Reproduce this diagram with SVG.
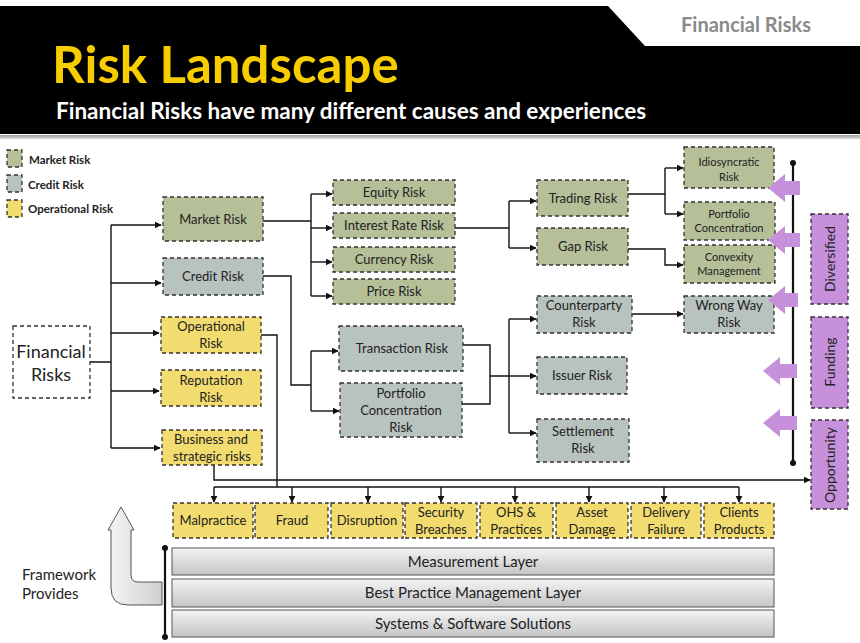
<svg xmlns="http://www.w3.org/2000/svg" width="860" height="643" viewBox="0 0 860 643">
<defs>
<style>
text{font-family:Lato,"Liberation Sans",sans-serif;fill:#222;text-anchor:middle}
.g{fill:#b5bf98;stroke:#333;stroke-width:1.3;stroke-dasharray:4 3}
.c{fill:#b8c3bf;stroke:#333;stroke-width:1.3;stroke-dasharray:4 3}
.y{fill:#f2dc70;stroke:#333;stroke-width:1.3;stroke-dasharray:4 3}
.p{fill:#c691da;stroke:#333;stroke-width:1.3;stroke-dasharray:4 3}
.w{fill:#fff;stroke:#333;stroke-width:1.3;stroke-dasharray:4 3}
.t{font-size:13px}
.l{fill:url(#lg);stroke:#555;stroke-width:1}
.lt{font-size:15px}
#conn path{fill:none;stroke:#111;stroke-width:1.4}
.a{marker-end:url(#ah)}
.pa{fill:#c691da}
</style>
<marker id="ah" viewBox="0 0 10 10" refX="9" refY="5" markerWidth="7" markerHeight="7" orient="auto" markerUnits="userSpaceOnUse"><path d="M0,0L10,5L0,10z" fill="#111"/></marker>
<linearGradient id="lg" x1="0" y1="0" x2="0" y2="1"><stop offset="0" stop-color="#f4f4f4"/><stop offset="1" stop-color="#c4c4c4"/></linearGradient>
<linearGradient id="ag" x1="0" y1="0" x2="1" y2="0"><stop offset="0" stop-color="#f6f6f6"/><stop offset="1" stop-color="#cfcfcf"/></linearGradient>
<linearGradient id="hl" x1="0" y1="0" x2="0" y2="1"><stop offset="0" stop-color="#999"/><stop offset="1" stop-color="#ddd"/></linearGradient>
</defs>
<rect width="860" height="643" fill="#fff"/>
<g id="header">
<rect x="0" y="6" width="860" height="128" fill="#000"/>
<polygon points="608,6 860,6 860,46 645,46" fill="#fff"/>
<rect x="0" y="135" width="860" height="4" fill="url(#hl)"/>
<text x="746" y="32" style="font-size:20px;font-weight:bold;fill:#8a8a8a">Financial Risks</text>
<text x="52" y="83" style="font-size:51px;font-weight:bold;fill:#f7cd00;text-anchor:start">Risk Landscape</text>
<text x="56" y="119" style="font-size:22.5px;font-weight:bold;fill:#fff;text-anchor:start">Financial Risks have many different causes and experiences</text>
</g>
<g id="legend">
<rect class="g" x="7" y="150" width="15" height="17"/><text x="29" y="164" style="font-size:11.5px;font-weight:bold;text-anchor:start">Market Risk</text>
<rect class="c" x="7" y="175" width="15" height="17"/><text x="28" y="189" style="font-size:11.5px;font-weight:bold;text-anchor:start">Credit Risk</text>
<rect class="y" x="7" y="200" width="15" height="17"/><text x="28" y="213" style="font-size:11.5px;font-weight:bold;text-anchor:start">Operational Risk</text>
</g>
<g id="conn">
<path d="M90,362H111M111,225V448"/>
<path class="a" d="M111,225H161"/><path class="a" d="M111,283H161"/><path class="a" d="M111,333H159"/><path class="a" d="M111,391H159"/><path class="a" d="M111,448H160"/>
<path d="M263,221H311M311,194V296"/>
<path class="a" d="M311,194H332"/><path class="a" d="M311,228H332"/><path class="a" d="M311,262H332"/><path class="a" d="M311,296H332"/>
<path d="M263,276H291V385H311M311,351V411"/>
<path class="a" d="M311,351H338"/><path class="a" d="M311,411H339"/>
<path d="M463,345H490V404H462M490,376H509M509,319V433"/>
<path class="a" d="M509,319H536"/><path class="a" d="M509,376H536"/><path class="a" d="M509,433H536"/>
<path d="M455,228H509M509,201V248"/>
<path class="a" d="M509,201H536"/><path class="a" d="M509,248H536"/>
<path d="M628,194H665M665,168V214"/>
<path class="a" d="M665,168H683"/><path class="a" d="M665,214H683"/>
<path class="a" d="M628,249H665V265H683"/>
<path class="a" d="M632,314H683"/>
<path d="M261,335H277V487"/>
<path class="a" d="M214,465V480H810"/>
<path d="M214,487H739"/>
<path class="a" d="M214,487V502"/><path class="a" d="M292,487V502"/><path class="a" d="M368,487V502"/><path class="a" d="M441,487V502"/><path class="a" d="M515,487V502"/><path class="a" d="M589,487V502"/><path class="a" d="M664,487V502"/><path class="a" d="M739,487V502"/>
<path d="M793,163V463M165,548V637" style="stroke-width:2.2"/>
</g>
<circle cx="793" cy="163" r="3" fill="#111"/><circle cx="793" cy="463" r="3" fill="#111"/>
<circle cx="165" cy="548" r="3" fill="#111"/><circle cx="165" cy="637" r="3" fill="#111"/>
<g id="financial"><rect class="w" x="13" y="326" width="77" height="72"/><text x="51" y="358" style="font-size:18px">Financial</text><text x="51" y="381" style="font-size:18px">Risks</text></g>
<g id="market"><rect class="g" x="163" y="197" width="100" height="44"/><text class="t" x="213" y="224">Market Risk</text></g>
<g id="credit"><rect class="c" x="163" y="258" width="100" height="37"/><text class="t" x="213" y="281">Credit Risk</text></g>
<g id="operational"><rect class="y" x="161" y="317" width="100" height="36"/><text class="t" x="211" y="331">Operational</text><text class="t" x="211" y="348">Risk</text></g>
<g id="reputation"><rect class="y" x="161" y="370" width="100" height="36"/><text class="t" x="211" y="385">Reputation</text><text class="t" x="211" y="402">Risk</text></g>
<g id="business"><rect class="y" x="162" y="430" width="100" height="35"/><text class="t" x="211" y="444">Business and</text><text class="t" x="212" y="461">strategic risks</text></g>
<g id="equity"><rect class="g" x="333" y="180" width="122" height="25"/><text class="t" x="394" y="197">Equity Risk</text></g>
<g id="interest"><rect class="g" x="333" y="213" width="122" height="25"/><text class="t" x="394" y="230">Interest Rate Risk</text></g>
<g id="currency"><rect class="g" x="333" y="247" width="122" height="25"/><text class="t" x="394" y="264">Currency Risk</text></g>
<g id="price"><rect class="g" x="333" y="279" width="122" height="25"/><text class="t" x="394" y="296">Price Risk</text></g>
<g id="transaction"><rect class="c" x="339" y="326" width="124" height="45"/><text class="t" x="402" y="353">Transaction Risk</text></g>
<g id="portconc"><rect class="c" x="340" y="383" width="122" height="54"/><text class="t" x="401" y="398">Portfolio</text><text class="t" x="401" y="415">Concentration</text><text class="t" x="401" y="432">Risk</text></g>
<g id="trading"><rect class="g" x="537" y="180" width="91" height="36"/><text class="t" x="583" y="203">Trading Risk</text></g>
<g id="gap"><rect class="g" x="537" y="228" width="91" height="37"/><text class="t" x="583" y="251">Gap Risk</text></g>
<g id="counterparty"><rect class="c" x="537" y="296" width="95" height="37"/><text class="t" x="584" y="310">Counterparty</text><text class="t" x="584" y="327">Risk</text></g>
<g id="issuer"><rect class="c" x="537" y="357" width="90" height="37"/><text class="t" x="582" y="380">Issuer Risk</text></g>
<g id="settlement"><rect class="c" x="537" y="419" width="92" height="43"/><text class="t" x="583" y="436">Settlement</text><text class="t" x="583" y="453">Risk</text></g>
<g id="idio"><rect class="g" x="684" y="147" width="90" height="41"/><text x="729" y="166" style="font-size:11px">Idiosyncratic</text><text x="729" y="181" style="font-size:11px">Risk</text></g>
<g id="portconc2"><rect class="g" x="684" y="202" width="91" height="38"/><text x="729" y="218" style="font-size:11px">Portfolio</text><text x="729" y="232" style="font-size:11px">Concentration</text></g>
<g id="convexity"><rect class="g" x="684" y="245" width="91" height="38"/><text x="729" y="261" style="font-size:11px">Convexity</text><text x="729" y="275" style="font-size:11px">Management</text></g>
<g id="wrongway"><rect class="c" x="684" y="296" width="90" height="37"/><text class="t" x="729" y="310">Wrong Way</text><text class="t" x="729" y="327">Risk</text></g>
<g id="purplearrows">
<path class="pa" d="M768,188L785,174V181H800V195H785V202Z"/>
<path class="pa" d="M768,240L785,226V233H800V247H785V254Z"/>
<path class="pa" d="M768,300L785,286V293H798V307H785V314Z"/>
<path class="pa" d="M763,371L780,357V364H797V378H780V385Z"/>
<path class="pa" d="M763,423L780,409V416H797V430H780V437Z"/>
</g>
<g id="diversified"><rect class="p" x="811" y="214" width="37" height="90"/><text transform="translate(835,259) rotate(-90)" style="font-size:14px">Diversified</text></g>
<g id="funding"><rect class="p" x="811" y="317" width="37" height="91"/><text transform="translate(835,362) rotate(-90)" style="font-size:14px">Funding</text></g>
<g id="opportunity"><rect class="p" x="811" y="420" width="37" height="89"/><text transform="translate(835,465) rotate(-90)" style="font-size:14px">Opportunity</text></g>
<g id="malpractice"><rect class="y" x="173" y="503" width="80" height="35"/><text class="t" x="213" y="525">Malpractice</text></g>
<g id="fraud"><rect class="y" x="255" y="503" width="73" height="35"/><text class="t" x="292" y="525">Fraud</text></g>
<g id="disruption"><rect class="y" x="331" y="503" width="72" height="35"/><text class="t" x="367" y="525">Disruption</text></g>
<g id="security"><rect class="y" x="405" y="503" width="72" height="35"/><text class="t" x="441" y="517">Security</text><text class="t" x="441" y="534">Breaches</text></g>
<g id="ohs"><rect class="y" x="480" y="503" width="73" height="35"/><text class="t" x="516" y="517">OHS &amp;</text><text class="t" x="516" y="534">Practices</text></g>
<g id="asset"><rect class="y" x="556" y="503" width="72" height="35"/><text class="t" x="592" y="517">Asset</text><text class="t" x="592" y="534">Damage</text></g>
<g id="delivery"><rect class="y" x="631" y="503" width="70" height="35"/><text class="t" x="666" y="517">Delivery</text><text class="t" x="666" y="534">Failure</text></g>
<g id="clients"><rect class="y" x="704" y="503" width="70" height="35"/><text class="t" x="739" y="517">Clients</text><text class="t" x="739" y="534">Products</text></g>
<g id="layers">
<rect class="l" x="172" y="548" width="602" height="27"/><text class="lt" x="473" y="567">Measurement Layer</text>
<rect class="l" x="172" y="579" width="602" height="28"/><text class="lt" x="473" y="598">Best Practice Management Layer</text>
<rect class="l" x="172" y="610" width="602" height="27"/><text class="lt" x="473" y="629">Systems &amp; Software Solutions</text>
</g>
<g id="framework">
<path d="M121,507L134,530H131V575Q131,582 138,582H162V605H128Q111,605 111,588V530H108Z" fill="url(#ag)" stroke="#555" stroke-width="1"/>
<text x="22" y="580" style="font-size:15px;text-anchor:start">Framework</text>
<text x="22" y="599" style="font-size:15px;text-anchor:start">Provides</text>
</g>
</svg>
